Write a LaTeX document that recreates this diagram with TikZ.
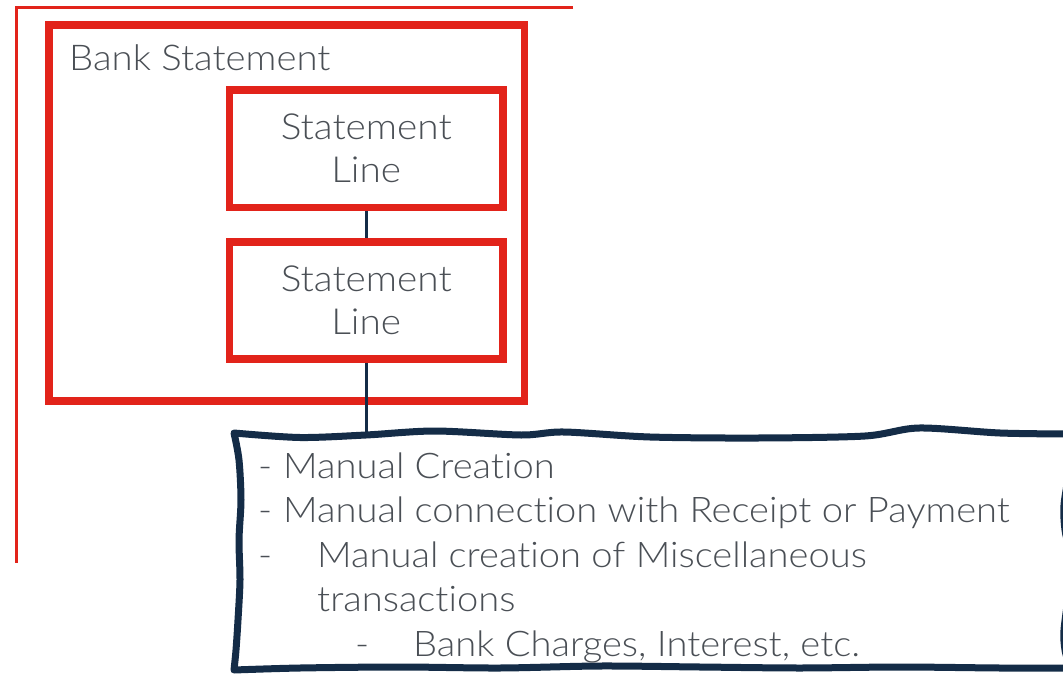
\documentclass[tikz,border=0pt]{standalone}
\usepackage{fontspec}
\setmainfont{Lato Light}[FakeStretch=1.08, Ligatures=NoCommon]
\definecolor{stmtred}{HTML}{E2231A}
\definecolor{navy}{HTML}{142C47}
\definecolor{txtgray}{HTML}{4A4F55}

\begin{document}
\begin{tikzpicture}[x=1pt,y=-1pt,
  redframe/.style={draw=stmtred, line width=7.5pt, inner sep=0pt},
  linebox/.style={redframe, minimum width=273.5pt, minimum height=117.5pt,
    align=center, text=txtgray, font=\fontsize{35.9}{43}\selectfont},
  label/.style={text=txtgray, inner sep=0pt, anchor=base west,
    font=\fontsize{35.5}{43}\selectfont},
  notetext/.style={text=txtgray, inner sep=0pt, anchor=base west,
    font=\fontsize{35.3}{44.5}\selectfont},
  link/.style={draw=navy, line width=3.5pt},
  wavy/.style={draw=navy, line width=7pt, line join=round, fill=white}]
\useasboundingbox (0,0) rectangle (1063,674);
\clip (0,0) rectangle (1063,674);

% thin outer bracket
\draw[stmtred, line width=3pt] (573,7.5) -- (16,7.5) -- (16,563);

% bank statement frame and its lines
\node[redframe, minimum width=475.5pt, minimum height=376pt] (bank) at (286.75,213) {};
\node[label] (banklabel) at (69,71) {Bank Statement};
\node[linebox] (line1) at (366.25,148.75) {Statement\\Line};
\node[linebox, minimum height=117pt] (line2) at (366.25,300.5) {Statement\\Line};

\coordinate (notetop) at (366.25,436);
\draw[link] (line1.south) -- (line2.north);
\draw[link] (line2.south) -- (notetop);

% hand-drawn note box
\path[wavy]
  plot[smooth] coordinates {(234,433) (300,437.5) (366,435) (435,431) (521,435)
    (564,432) (650,437) (758,438) (865,436) (919,428) (1000,433) (1070,434)}
  -- plot[smooth] coordinates {(1070,434) (1069,470) (1064,505) (1065,530)
    (1071,560) (1069,590) (1064,630) (1065,650) (1070,668)}
  -- plot[smooth] coordinates {(1070,668) (1000,668) (900,667) (800,668)
    (700,667) (600,666) (500,668) (400,667) (300,668) (234,670)}
  -- plot[smooth] coordinates {(234,670) (236,650) (238,620) (240,580)
    (239,540) (241,500) (239,460) (234,433)}
  -- cycle;

\node[notetext] (note1) at (258,478) {\makebox[25pt][l]{-}Manual Creation};
\node[notetext] (note2) at (258,522.5) {\makebox[25pt][l]{-}Manual connection with Receipt or Payment};
\node[notetext] (note3) at (258,567) {\makebox[59pt][l]{-}Manual creation of Miscellaneous};
\node[notetext] (note4) at (317,611.5) {transactions};
\node[notetext] (note5) at (355,656) {\makebox[58pt][l]{-}Bank Charges, Interest, etc.};
\end{tikzpicture}
\end{document}
